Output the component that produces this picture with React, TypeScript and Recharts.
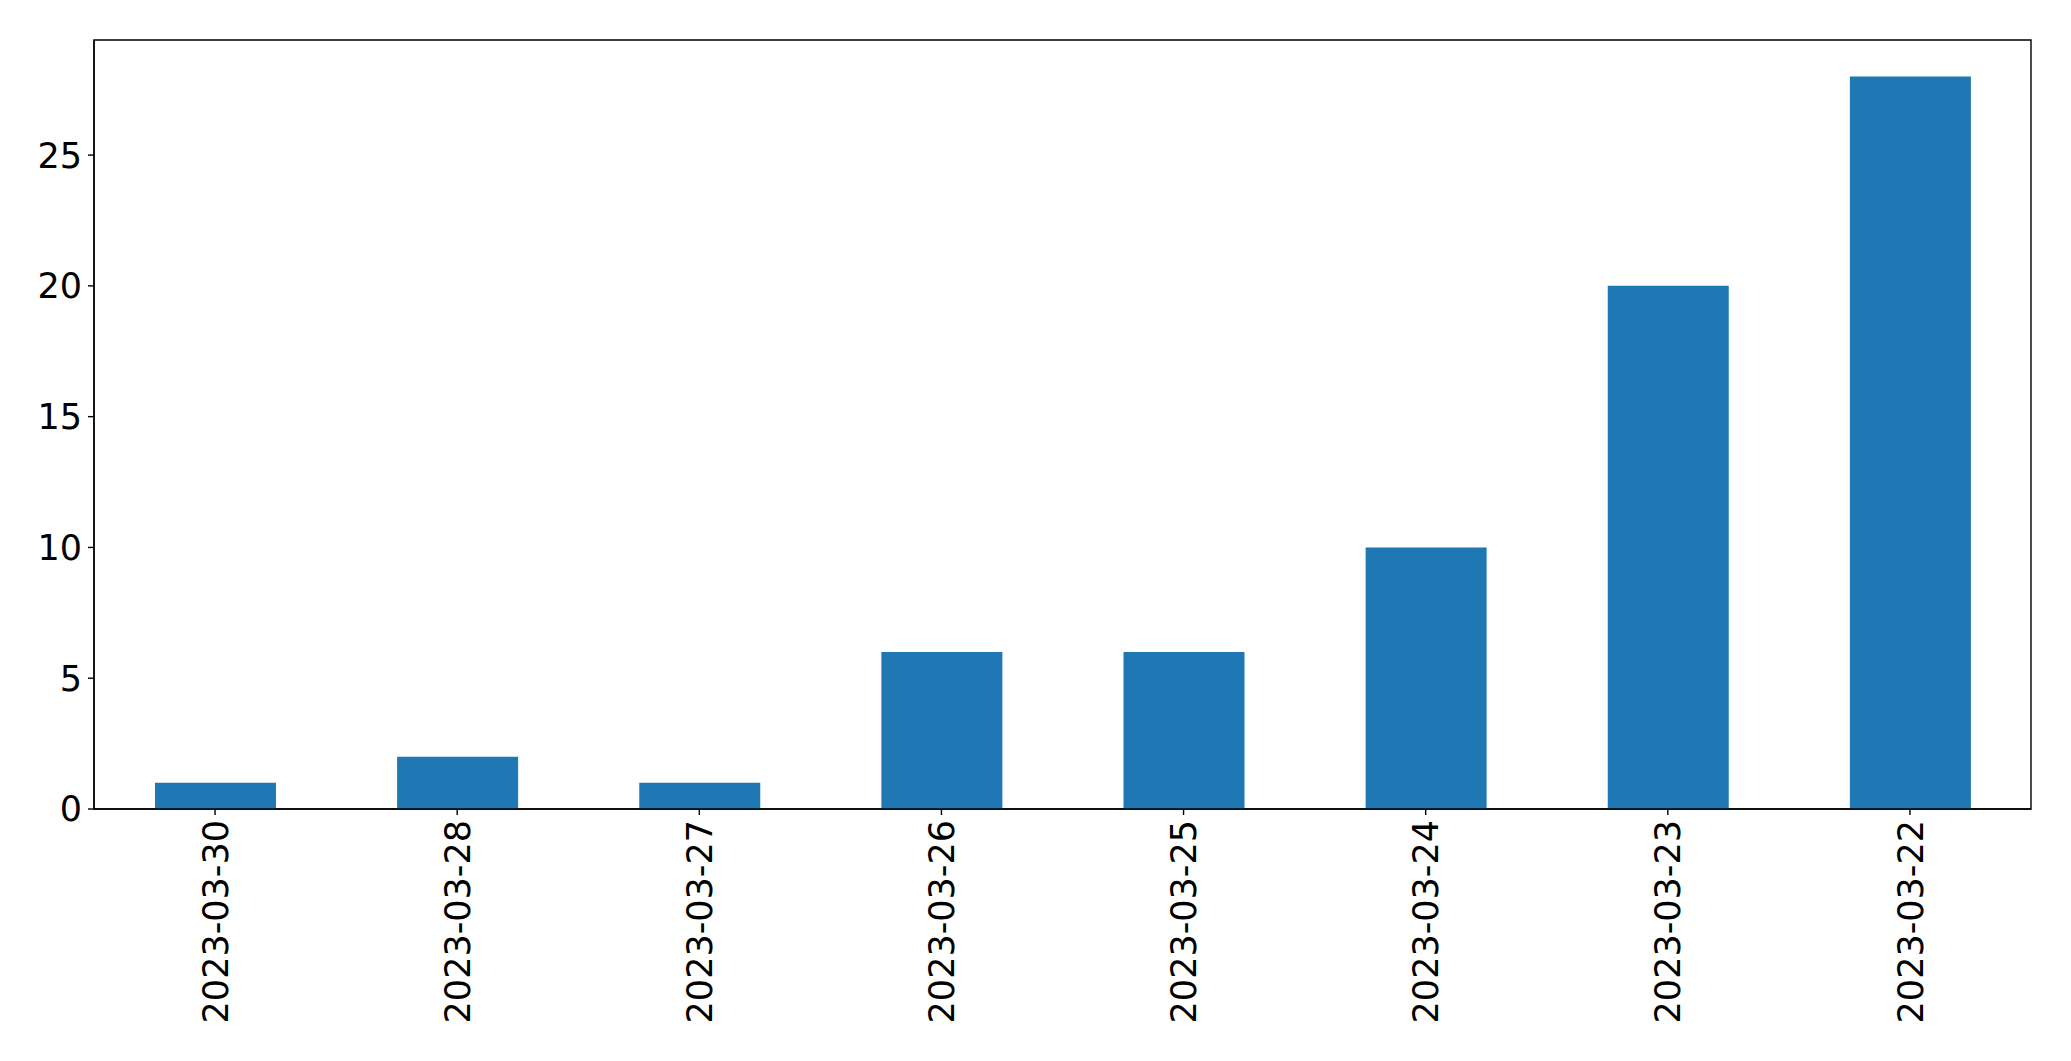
import { BarChart, Bar, XAxis, YAxis, ReferenceArea } from 'recharts';

const dates = [
    '2023-03-30',
    '2023-03-28',
    '2023-03-27',
    '2023-03-26',
    '2023-03-25',
    '2023-03-24',
    '2023-03-23',
    '2023-03-22',
];
const counts = [1, 2, 1, 6, 6, 10, 20, 28];
const yTicks = [0, 5, 10, 15, 20, 25];
const Y_MAX = 29.4;

const data = dates.map((d, i) => ({ name: d, value: counts[i] }));

const FONT = '"DejaVu Sans", sans-serif';
const FONT_SIZE = 35;

// rotated date labels, reading bottom-to-top like matplotlib rotation=90
function DateTick({ x, y, payload }: any) {
    return (
        <g transform={`translate(${x},${y})`}>
            <text
                transform="rotate(-90)"
                textAnchor="end"
                dy="0.36em"
                fill="#000"
                fontFamily={FONT}
                fontSize={FONT_SIZE}
            >
                {payload.value}
            </text>
        </g>
    );
}

export default function App() {
    return (
        <div style={{ position: 'absolute', left: 0, top: 0, background: '#fff' }}>
            <BarChart
                width={2071}
                height={1061}
                data={data}
                margin={{ top: 40, right: 40, bottom: 0, left: 0 }}
            >
                <XAxis
                    dataKey="name"
                    height={252}
                    interval={0}
                    tickSize={6}
                    tickMargin={5}
                    tick={<DateTick />}
                    axisLine={{ stroke: '#000', strokeWidth: 1.4 }}
                    tickLine={{ stroke: '#000', strokeWidth: 1.4 }}
                />
                <YAxis
                    width={94}
                    domain={[0, Y_MAX]}
                    ticks={yTicks}
                    interval={0}
                    tickSize={6}
                    tickMargin={6}
                    tick={{ fill: '#000', fontFamily: FONT, fontSize: FONT_SIZE }}
                    axisLine={{ stroke: '#000', strokeWidth: 1.4 }}
                    tickLine={{ stroke: '#000', strokeWidth: 1.4 }}
                />
                <Bar dataKey="value" fill="#1f77b4" barSize={121} isAnimationActive={false} />
                {/* frame round the plot area */}
                <ReferenceArea
                    x1={dates[0]}
                    x2={dates[dates.length - 1]}
                    y1={0}
                    y2={Y_MAX}
                    fill="none"
                    fillOpacity={0}
                    stroke="#000"
                    strokeWidth={1.4}
                    strokeOpacity={1}
                />
            </BarChart>
        </div>
    );
}
